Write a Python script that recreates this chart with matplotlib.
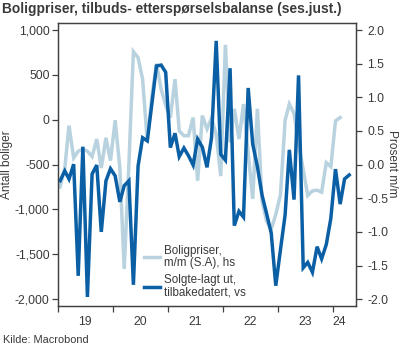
import matplotlib
matplotlib.use("Agg")
import matplotlib.pyplot as plt
import matplotlib.dates as mdates
import numpy as np
import pandas as pd

plt.rcParams['font.family'] = ['Liberation Sans', 'DejaVu Sans']

# monthly series, Jan 2019 onwards
solgte_lagt_ut = [
    -680, -570, -660, -495, -1740, -300, -1975, -605, -505, -1250, -680, -545,   # 2019
    -625, -915, -735, -680, -1840, -515, -200, -235, 185, 600, 610, 530,         # 2020
    -310, -150, -410, -315, -400, -505, -215, -305, -530, -200, 880, -385,       # 2021
    -450, 575, -1180, -1020, -1085, 355, -270, -520, -840, -1045, -1265, -1850,  # 2022
    -1450, -1060, -335, -890, 495, -1650, -1590, -1700, -1415, -1550, -1390, -1100,  # 2023
    -550, -940, -660, -615,                                                      # 2024
]
boligpriser_mm = [
    -0.33, -0.05, 0.58, 0.10, 0.20, 0.23, 0.20, 0.12, 0.38, -0.05, 0.40, 0.06,
    0.66, -0.05, -1.55, 0.00, 1.68, 1.59, 1.27, 0.35, 1.02, 1.50, 1.12, 0.88,
    0.70, 1.27, 0.50, 0.43, 0.43, 0.70, -0.24, 0.73, 0.53, 0.69, 0.45, -0.17,
    1.78, 0.33, 0.83, 0.38, 0.90, 0.18, -0.51, 0.83, -0.54, -0.84, -0.96, -0.74,
    -0.45, 0.66, 0.90, 0.76, 0.30, -0.07, -0.46, -0.39, -0.38, -0.41, 0.03, -0.03,
    0.65, 0.70,
]
left_ticks = [1000, 500, 0, -500, -1000, -1500, -2000]
right_ticks = [2.0, 1.5, 1.0, 0.5, 0.0, -0.5, -1.0, -1.5, -2.0]
year_labels = ['19', '20', '21', '22', '23', '24']
label_dates = ['2019-07-01', '2020-07-01', '2021-07-01', '2022-07-01', '2023-07-01', '2024-02-10']

months_dark = pd.date_range("2019-01-01", periods=len(solgte_lagt_ut), freq="MS") + pd.Timedelta(days=14)
months_light = months_dark[:len(boligpriser_mm)]

dark = '#0b5fa5'
light = '#b8d2df'
txt = '#3a3a3a'
spine_c = '#404040'

fig = plt.figure(figsize=(4, 3.5), dpi=100)
ax = fig.add_axes([0.145, 0.126, 0.745, 0.808])
ax2 = ax.twinx()
# put the left-axis series on top
ax.set_zorder(ax2.get_zorder() + 1)
ax.patch.set_visible(False)

l1, = ax2.plot(months_light, boligpriser_mm, color=light, lw=2.5, solid_joinstyle='miter',
               label='Boligpriser,\nm/m (S.A), hs')
l2, = ax.plot(months_dark, solgte_lagt_ut, color=dark, lw=2.5, solid_joinstyle='miter',
              label='Solgte-lagt ut,\ntilbakedatert, vs')

ax.set_ylim(-2075, 1078)
ax2.set_ylim(-2.1, 2.104)
ax.set_yticks(left_ticks)
ax.set_yticklabels([f"{v:,}" for v in left_ticks])
ax2.set_yticks(right_ticks)
ax2.set_yticklabels([f"{v:.1f}" for v in right_ticks])

ax.set_xlim(pd.Timestamp("2019-01-01"), pd.Timestamp("2024-05-30"))
ax.xaxis.set_major_locator(mdates.YearLocator())
ax.xaxis.set_major_formatter(plt.NullFormatter())
ax.set_xticks(pd.to_datetime(label_dates), minor=True)
ax.set_xticklabels(year_labels, minor=True)

for a in (ax, ax2):
    for s in a.spines.values():
        s.set_color(spine_c)
        s.set_linewidth(0.9)
ax.tick_params(axis='x', which='major', length=4, width=0.9, color=spine_c)
ax.tick_params(axis='x', which='minor', length=0, pad=7.5, labelsize=8.8, labelcolor=txt)
ax.tick_params(axis='y', length=4.5, width=0.9, color=spine_c, pad=1.5, labelsize=8.8, labelcolor=txt)
ax2.tick_params(axis='y', length=4.5, width=0.9, color=spine_c, pad=3.5, labelsize=8.8, labelcolor=txt)

fig.text(7.5 / 400, 1 - 165 / 350, 'Antall boliger', rotation=90, ha='center', va='center',
         fontsize=8.6, color=txt)
fig.text(392 / 400, 1 - 164 / 350, 'Prosent m/m', rotation=270, ha='center', va='center',
         fontsize=8.6, color=txt)

fig.text(2 / 400, 1 - 9.5 / 350, 'Boligpriser, tilbuds- etterspørselsbalanse (ses.just.)',
         ha='left', va='center', fontsize=9.9, fontweight='bold', color=txt)
fig.text(3 / 400, 1 - 340 / 350, 'Kilde: Macrobond', ha='left', va='center', fontsize=7.9, color=txt)

leg = ax.legend(handles=[l1, l2], loc='lower left', bbox_to_anchor=(0.29, 0.025),
                frameon=False, fontsize=8.4, handlelength=1.35, handletextpad=0.35,
                labelspacing=0.45, borderpad=0, borderaxespad=0)
for t in leg.get_texts():
    t.set_color(txt)
    t.set_linespacing(1.05)

fig.savefig('out.png', dpi=100)
